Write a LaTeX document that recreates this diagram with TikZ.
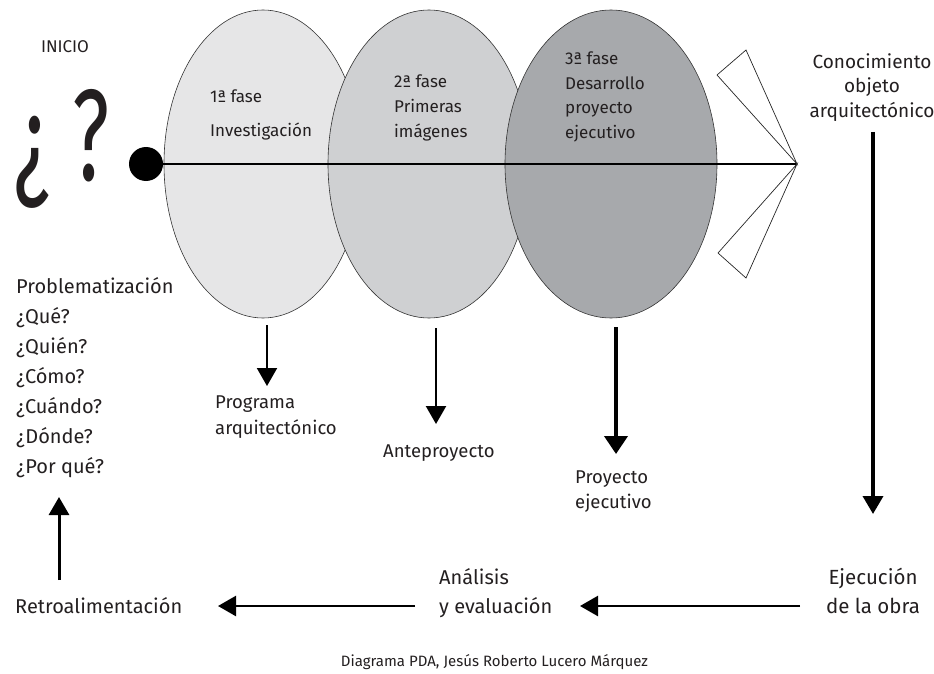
\documentclass[tikz,border=0pt]{standalone}
\usepackage{fontspec}
\usepackage{graphicx}
\setmainfont{Fira Sans}
\usetikzlibrary{shapes.geometric,arrows.meta}
\definecolor{txt}{HTML}{231F20}
\definecolor{faseA}{HTML}{E6E6E7}
\definecolor{faseB}{HTML}{CFD0D2}
\definecolor{faseC}{HTML}{A7A9AC}
\newcommand{\tam}[2]{\fontsize{#1}{#2}\selectfont}
% multi-line nodes: the base anchor sits on the baseline of the last line
\tikzset{
  fase/.style={ellipse, draw=black!80, line width=0.6pt, minimum width=198pt, minimum height=308pt, inner sep=0pt},
  lbl/.style={text=txt, inner sep=0pt, anchor=base west, align=left},
  lblc/.style={text=txt, inner sep=0pt, anchor=base, align=center},
  flecha/.style={line width=2.5pt, -{Triangle[width=20pt,length=18pt]}},
  aleta/.style={draw=black!85, line width=0.7pt, fill=white, line join=miter},
}
\begin{document}
\begin{tikzpicture}[x=1pt,y=-1pt]
\useasboundingbox (0,0) rectangle (934,674);

% the three phases
\node[fase, fill=faseA] (f1) at (263,164) {};
\node[fase, fill=faseB, minimum width=202pt] (f2) at (429,164) {};
\node[fase, fill=faseC, minimum width=212pt] (f3) at (611,164) {};

% start point, axis and tail
\node[circle, fill=black, minimum size=34pt, inner sep=0pt] (ini) at (146,164) {};
\coordinate (apex) at (797,164);
\draw[line width=2pt] (ini.center) -- (apex);
\coordinate (t1) at (717,75);
\coordinate (t2) at (746,50);
\coordinate (t3) at (718,253);
\coordinate (t4) at (746,278);
\draw[aleta] (apex) -- (t1) -- (t2) -- cycle;
\draw[aleta] (apex) -- (t3) -- (t4) -- cycle;

% phase texts
\node[lbl, font=\tam{17}{34}] (p1) at (210,137) {1ª fase\\Investigación};
\node[lbl, font=\tam{17}{25}] (p2) at (394,138) {2ª fase\\Primeras\\imágenes};
\node[lbl, font=\tam{17}{24.5}] (p3) at (565,138.5) {3ª fase\\Desarrollo\\proyecto\\ejecutivo};

% start
\node[lblc, font=\tam{17}{20}] (inicio) at (65,53) {INICIO};
\node[lblc, font=\tam{130}{130}] (preg) at (62,180) {\scalebox{0.62}[1]{¿ ?}};

% problem statement
\node[lbl, font=\tam{20}{30}] (prob) at (16,473)
  {Problematización\\¿Qué?\\¿Quién?\\¿Cómo?\\¿Cuándo?\\¿Dónde?\\¿Por qué?};

% outputs of each phase
\node[lbl, font=\tam{18.5}{26}] (prog) at (215,434) {Programa\\arquitectónico};
\node[lbl, font=\tam{18.5}{26}] (ante) at (383,457) {Anteproyecto};
\node[lbl, font=\tam{18.5}{25}] (proy) at (575,508) {Proyecto\\ejecutivo};

\coordinate (a1) at (267,325);
\coordinate (b1) at (267,386);
\coordinate (a2) at (436,328);
\coordinate (b2) at (436,424);
\coordinate (a3) at (616,327);
\coordinate (b3) at (616,454);
\draw[flecha, line width=2pt] (a1) -- (b1);
\draw[flecha, line width=2.4pt] (a2) -- (b2);
\draw[flecha, line width=4pt, -{Triangle[width=23pt,length=18pt]}] (a3) -- (b3);

% right column and bottom row
\node[lblc, font=\tam{19}{25}] (cono) at (872,118) {Conocimiento\\objeto\\arquitectónico};
\node[lblc, font=\tam{20.5}{29}] (ejec) at (873,613) {Ejecución\\de la obra};
\node[lbl, font=\tam{20}{29}] (anal) at (439,613) {Análisis\\y evaluación};
\node[lbl, font=\tam{20}{29}] (retro) at (15,613) {Retroalimentación};

\coordinate (c1) at (873,132);
\coordinate (c2) at (873,514);
\coordinate (d1) at (800,606);
\coordinate (d2) at (580,606);
\coordinate (e1) at (415,606);
\coordinate (e2) at (218,606);
\coordinate (g1) at (59,580);
\coordinate (g2) at (59,497);
\draw[flecha, line width=3.6pt] (c1) -- (c2);
\draw[flecha] (d1) -- (d2);
\draw[flecha] (e1) -- (e2);
\draw[flecha, line width=3pt] (g1) -- (g2);

% credit
\node[lblc, font=\tam{15}{17}] (cred) at (494.5,666) {Diagrama PDA, Jesús Roberto Lucero Márquez};
\end{tikzpicture}
\end{document}
